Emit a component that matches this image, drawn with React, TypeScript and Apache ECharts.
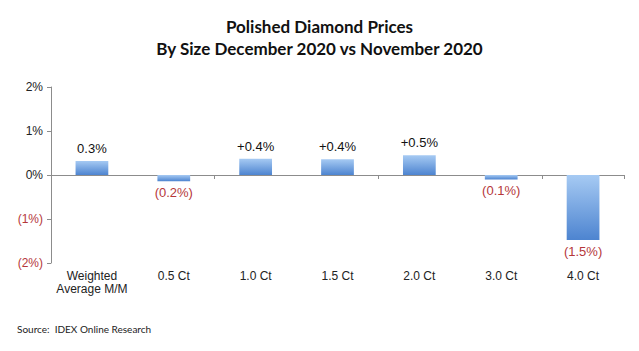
import React, { useEffect, useRef } from "react";
import * as echarts from "echarts";

const titleLines = ["Polished Diamond Prices", "By Size December 2020 vs November 2020"];
const sourceText = "Source:  IDEX Online Research";
const categories = ["Weighted\nAverage M/M", "0.5 Ct", "1.0 Ct", "1.5 Ct", "2.0 Ct", "3.0 Ct", "4.0 Ct"];
const values = [0.32, -0.14, 0.37, 0.36, 0.45, -0.1, -1.48];
const valueLabels = ["0.3%", "(0.2%)", "+0.4%", "+0.4%", "+0.5%", "(0.1%)", "(1.5%)"];
const yTicks: Record<string, string> = { "2": "2%", "1": "1%", "0": "0%", "-1": "(1%)", "-2": "(2%)" };

const RED = "#b5373a";

export default function App() {
  const ref = useRef<HTMLDivElement>(null);
  useEffect(() => {
    const chart = echarts.init(ref.current!, undefined, { renderer: "svg" });
    const barColor = new echarts.graphic.LinearGradient(0, 0, 0, 1, [
      { offset: 0, color: "#a6caf3" },
      { offset: 1, color: "#4d84d0" },
    ]);
    chart.setOption({
      animation: false,
      backgroundColor: "#ffffff",
      title: [
        {
          text: titleLines.join("\n"),
          left: "center",
          top: 10,
          textStyle: { fontFamily: "Lato", fontWeight: "bold", fontSize: 17, color: "#111", lineHeight: 22 },
        },
        {
          text: sourceText,
          left: 12,
          top: 319,
          textStyle: { fontFamily: "Lato", fontWeight: "normal", fontSize: 10, color: "#222" },
        },
      ],
      grid: { left: 51, right: 15, top: 87, bottom: 88, containLabel: false },
      xAxis: [
        {
          type: "category",
          data: categories,
          axisLine: { onZero: true, lineStyle: { color: "#8c8c8c", width: 1 } },
          axisTick: { show: true, length: 4, lineStyle: { color: "#8c8c8c" } },
          axisLabel: { show: false },
        },
        {
          type: "category",
          data: categories,
          position: "bottom",
          axisLine: { show: false, onZero: false },
          axisTick: { show: false },
          axisLabel: {
            show: true,
            margin: 6,
            fontFamily: "Liberation Sans",
            fontSize: 12,
            color: "#222",
            lineHeight: 13,
            interval: 0,
          },
        },
      ],
      yAxis: {
        type: "value",
        min: -2,
        max: 2,
        interval: 1,
        splitLine: { show: false },
        axisLine: { show: true, lineStyle: { color: "#8c8c8c" } },
        axisTick: { show: true, length: 4, lineStyle: { color: "#8c8c8c" } },
        axisLabel: {
          fontFamily: "Liberation Sans",
          fontSize: 12,
          margin: 8,
          formatter: (v: number) => {
            const t = yTicks[String(v)] ?? "";
            return v < 0 ? `{n|${t}}` : `{p|${t}}`;
          },
          rich: {
            n: { color: RED, fontFamily: "Liberation Sans", fontSize: 12 },
            p: { color: "#222", fontFamily: "Liberation Sans", fontSize: 12 },
          },
        },
      },
      series: [
        {
          type: "bar",
          xAxisIndex: 0,
          barWidth: "40%",
          data: values.map((v, i) => ({
            value: v,
            itemStyle: { color: barColor },
            label: {
              show: true,
              position: v >= 0 ? "top" : "bottom",
              distance: v >= 0 ? 6 : 5,
              formatter: valueLabels[i],
              fontFamily: "Liberation Sans",
              fontSize: 13,
              color: v >= 0 ? "#111" : RED,
            },
          })),
        },
      ],
    });
    return () => chart.dispose();
  }, []);
  return <div ref={ref} style={{ width: 639, height: 351, margin: -8 }} />;
}
